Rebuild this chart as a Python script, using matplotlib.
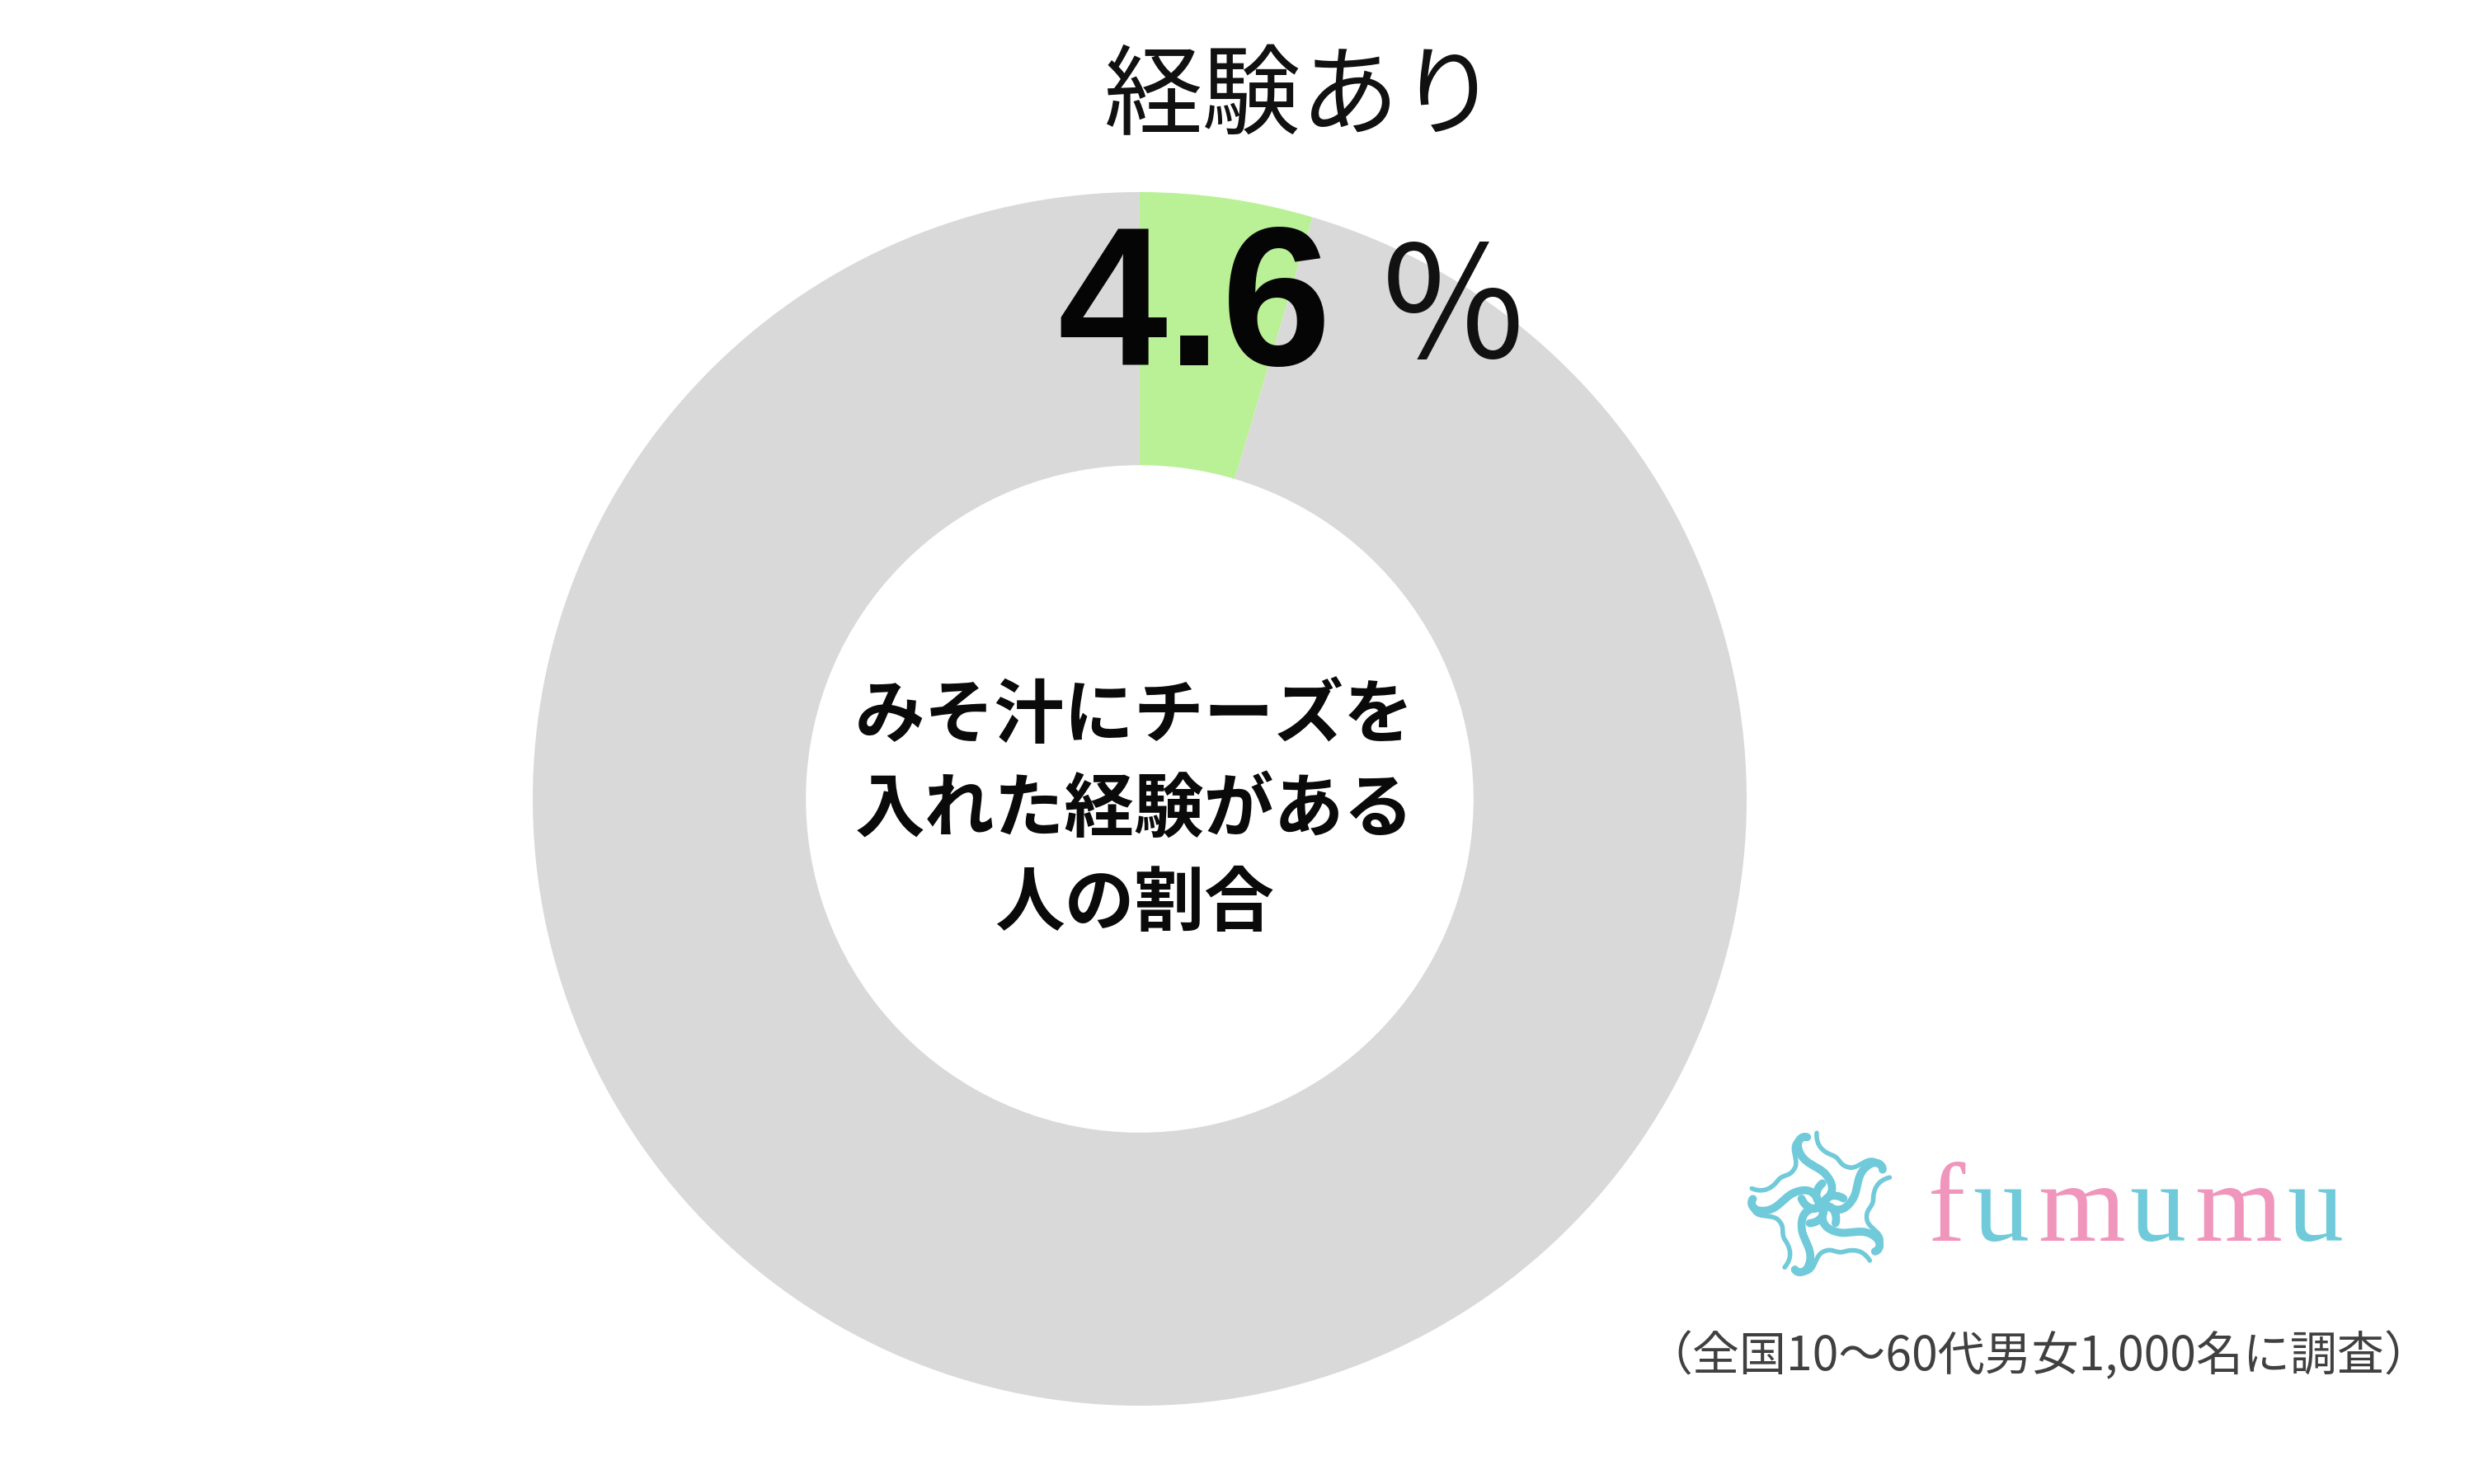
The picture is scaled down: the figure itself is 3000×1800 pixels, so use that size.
#!/usr/bin/env python3
import matplotlib
matplotlib.use('Agg')
import matplotlib.pyplot as plt
from matplotlib.patches import PathPatch
from matplotlib.path import Path
from matplotlib.transforms import Affine2D

plt.rcParams['font.family'] = ['Noto Sans CJK JP', 'DejaVu Sans']

# data
labels = ['経験あり', 'その他']
values = [4.6, 95.4]
slice_colors = ['#BAF096', '#D9D9D9']
title = '経験あり'
value_text = '4.6'
center_text = ['みそ汁にチーズを', '入れた経験がある', '人の割合']
note_text = '（全国10～60代男女1,000名に調査）'
logo_letters = ['f', 'u', 'm', 'u', 'm', 'u']
logo_x = [2360, 2426, 2524, 2616, 2714, 2807]

W, H = 3000, 1800
cx, cy, R = 1382, 969, 736
PINK = '#F095BC'
CYAN = '#70CAD9'

fig = plt.figure(figsize=(30, 18), dpi=100, facecolor='white')

# ドーナツ
ax_pie = fig.add_axes([(cx - R) / W, 1 - (cy + R) / H, 2 * R / W, 2 * R / H])
ax_pie.pie(values, colors=slice_colors, startangle=90, counterclock=False, radius=1,
           wedgeprops={'width': 0.45, 'linewidth': 0})
ax_pie.set_xlim(-1, 1)
ax_pie.set_ylim(-1, 1)
ax_pie.set_aspect('equal')
ax_pie.axis('off')

# 文字はピクセル座標で置く
ax = fig.add_axes([0, 0, 1, 1])
ax.set_xlim(0, W)
ax.set_ylim(H, 0)
ax.axis('off')
ax.patch.set_alpha(0)

ax.text(1577, 120, title, fontsize=86, ha='center', va='center', color='#111111')
ax.text(1449, 381, value_text, fontsize=172, fontweight='bold', ha='center', va='center',
        color='#050505', family='Liberation Sans')
ax.text(1762, 380, '%', fontsize=135, ha='center', va='center', color='#111111')

for i, line in enumerate(center_text):
    ax.text(1376, 869 + i * 114, line, fontsize=61, fontweight='bold', ha='center', va='center',
            color='#0A0A0A')

ax.text(2472, 1645, note_text, fontsize=41, ha='center', va='center', color='#404040')

# ロゴ文字
for ch, x in zip(logo_letters, logo_x):
    color = CYAN if ch == 'u' else PINK
    ax.text(x, 1505, ch, fontsize=98, family='Liberation Serif', ha='center', va='baseline',
            color=color)

# ロゴの花
M, C = Path.MOVETO, Path.CURVE4
thick = [(0.02, 0.05), (0.22, 0.15), (0.18, 0.30), (0.10, 0.42),
         (0.02, 0.55), (-0.20, 0.60), (-0.22, 0.82),
         (-0.24, 0.92), (-0.15, 1.00), (-0.08, 0.96)]
thin = [(0.06, 1.00), (0.02, 0.82), (0.12, 0.72), (0.24, 0.66),
        (0.34, 0.60), (0.30, 0.50), (0.46, 0.46),
        (0.60, 0.44), (0.72, 0.62), (0.86, 0.46)]
core = [(0.0, 0.0), (-0.12, 0.10), (-0.06, 0.24), (0.04, 0.30)]
codes_thick = [M, C, C, C, C, C, C, C, C, C]
codes_thin = [M, C, C, C, C, C, C, C, C, C]
codes_core = [M, C, C, C]
flower_tf = Affine2D().scale(88, -88).translate(2210, 1462)
for k in range(5):
    rot = Affine2D().rotate_deg(72 * k + 8) + flower_tf + ax.transData
    for pts, codes, lw in [(thick, codes_thick, 7), (thin, codes_thin, 4), (core, codes_core, 7)]:
        patch = PathPatch(Path(pts, codes), facecolor='none', edgecolor=CYAN, linewidth=lw,
                          capstyle='round', transform=rot)
        ax.add_patch(patch)

plt.savefig('out.png', dpi=100, facecolor='white')
plt.close()
